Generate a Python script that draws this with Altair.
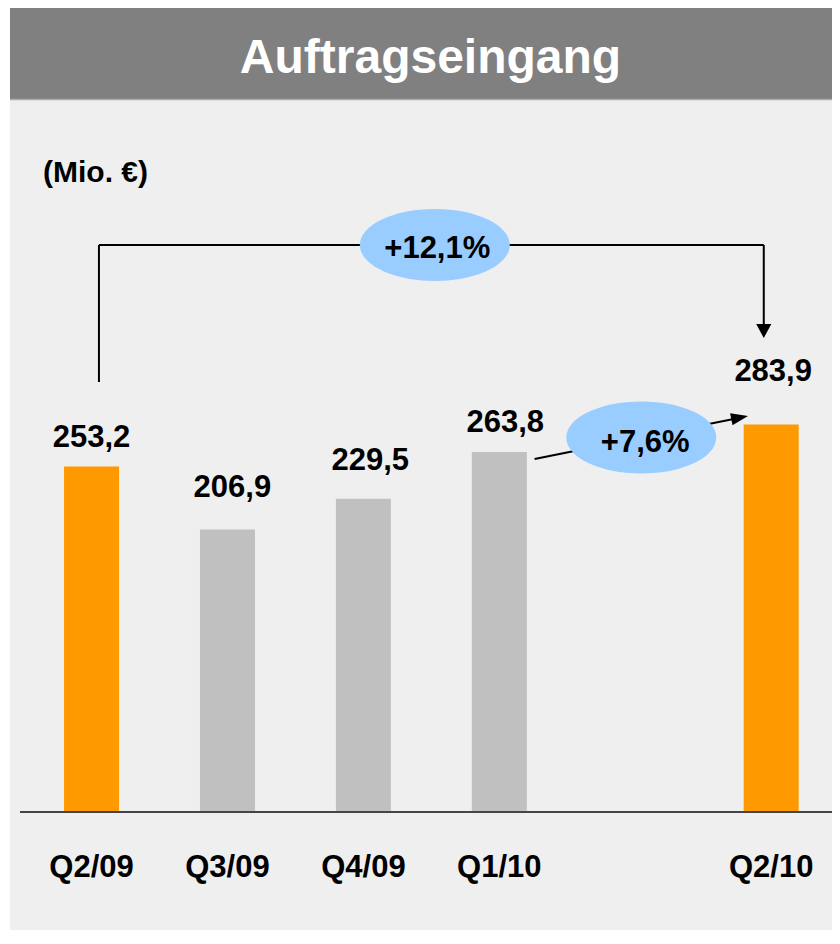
import altair as alt
import pandas as pd

# ---------------- data ----------------
quarters = ["Q2/09", "Q3/09", "Q4/09", "Q1/10", "Q2/10"]
values = [253.2, 206.9, 229.5, 263.8, 283.9]
highlight = [True, False, False, False, True]
slot_order = ["Q2/09", "Q3/09", "Q4/09", "Q1/10", "", "Q2/10"]  # empty slot before Q2/10
changes = ["+12,1%", "+7,6%"]
title_text = "Auftragseingang"
unit_text = "(Mio. €)"

# ---------------- layout ----------------
W, H = 824, 922
PX_PER_UNIT = 1.361
BASE_Y = 803.0          # chart px of value 0
SLOT_PX = 137.6
FIRST_X = 79.5
label_gap_px = [19, 32, 29, 20, 44]
label_dx_px = [0, 5, 7, 6, 2]
FONT = "Liberation Sans"

ORANGE = "#ff9900"
GREY_BAR = "#c0c0c0"
BG = "#efefef"
BANNER = "#808080"
BUBBLE = "#99ccff"


def sx(px):
    return (px - FIRST_X) / SLOT_PX


def vy(py):
    return (BASE_Y - py) / PX_PER_UNIT


xs = alt.Scale(domain=[sx(0), sx(W)], range=[0, W], nice=False, zero=False)
ys = alt.Scale(domain=[0, vy(0)], range=[BASE_Y, 0], nice=False)

slots = [slot_order.index(q) for q in quarters]
bars_df = pd.DataFrame({
    "quarter": quarters,
    "value": values,
    "slot": slots,
    "kind": ["hl" if h else "base" for h in highlight],
    "label": [f"{v:.1f}".replace(".", ",") for v in values],
    "label_v": [v + g / PX_PER_UNIT for v, g in zip(values, label_gap_px)],
    "label_slot": [s + d / SLOT_PX for s, d in zip(slots, label_dx_px)],
})

one = pd.DataFrame({"a": [0]})

bg = alt.Chart(one).mark_rect(color=BG).encode(
    x=alt.value(2), x2=alt.value(W), y=alt.value(0), y2=alt.value(H))
banner = alt.Chart(one).mark_rect(color=BANNER).encode(
    x=alt.value(2), x2=alt.value(W), y=alt.value(0), y2=alt.value(91))
banner_edge = alt.Chart(one).mark_rule(color="#ababab", strokeWidth=1.5).encode(
    x=alt.value(2), x2=alt.value(W), y=alt.value(91.5))
title = alt.Chart(one).mark_text(
    text=title_text, font=FONT, fontWeight="bold", fontSize=48, color="white",
    align="center", baseline="alphabetic").encode(x=alt.value(422.5), y=alt.value(65))
unit = alt.Chart(one).mark_text(
    text=unit_text, font=FONT, fontWeight="bold", fontSize=30, color="black",
    align="left", baseline="alphabetic").encode(x=alt.value(35), y=alt.value(174))

bars = alt.Chart(bars_df).mark_bar(size=55).encode(
    x=alt.X("slot:Q", scale=xs, axis=None),
    y=alt.Y("value:Q", scale=ys, axis=None),
    color=alt.Color("kind:N", scale=alt.Scale(domain=["hl", "base"], range=[ORANGE, GREY_BAR]), legend=None),
)

baseline = alt.Chart(one).mark_rule(color="#454545", strokeWidth=2).encode(
    x=alt.value(12), x2=alt.value(W), y=alt.value(BASE_Y + 1))

bar_labels = alt.Chart(bars_df).mark_text(
    font=FONT, fontWeight="bold", fontSize=31, color="black",
    align="center", baseline="alphabetic").encode(
    x=alt.X("label_slot:Q", scale=xs, axis=None),
    y=alt.Y("label_v:Q", scale=ys, axis=None),
    text="label:N")

cat_labels = alt.Chart(bars_df).mark_text(
    font=FONT, fontWeight="bold", fontSize=31, color="black",
    align="center", baseline="alphabetic").encode(
    x=alt.X("slot:Q", scale=xs, axis=None),
    y=alt.value(869),
    text="quarter:N")

# ---- annotations (geometry in chart px, converted to data units) ----
bx0 = slots[0] + 7.5 / SLOT_PX
bx1 = slots[-1] - 7.5 / SLOT_PX
top_y = 237
segs = pd.DataFrame({
    "x": [bx0, bx0, bx1, sx(528)],
    "x2": [bx0, bx1, bx1, sx(737)],
    "y": [vy(374), vy(top_y), vy(top_y), vy(451)],
    "y2": [vy(top_y), vy(top_y), vy(324), vy(409.5)],
})
rules = alt.Chart(segs).mark_rule(color="black", strokeWidth=2).encode(
    x=alt.X("x:Q", scale=xs, axis=None), x2="x2:Q",
    y=alt.Y("y:Q", scale=ys, axis=None), y2="y2:Q")

head1 = alt.Chart(pd.DataFrame({"x": [bx1], "y": [vy(330)]})).mark_point(
    shape="M0,0L-0.54,-1L0.54,-1Z", size=784, filled=True, color="black", opacity=1, strokeWidth=0).encode(
    x=alt.X("x:Q", scale=xs, axis=None), y=alt.Y("y:Q", scale=ys, axis=None))
head2 = alt.Chart(pd.DataFrame({"x": [sx(744)], "y": [vy(408)]})).mark_point(
    shape="M0,0L-1,-0.36L-1,0.36Z", size=1156, angle=348.7, filled=True, color="black", opacity=1, strokeWidth=0).encode(
    x=alt.X("x:Q", scale=xs, axis=None), y=alt.Y("y:Q", scale=ys, axis=None))

bubbles_df = pd.DataFrame({
    "x": [sx(427), sx(636)],
    "y": [vy(237), vy(429.5)],
    "tx": [sx(429.5), sx(640)],
    "ty": [vy(250), vy(444)],
    "text": changes,
})
bubbles = alt.Chart(bubbles_df).mark_point(
    shape="M-1,0A1,0.48,0,1,1,1,0A1,0.48,0,1,1,-1,0Z", size=22500, filled=True,
    color=BUBBLE, opacity=1, strokeWidth=0).encode(
    x=alt.X("x:Q", scale=xs, axis=None), y=alt.Y("y:Q", scale=ys, axis=None))
bubble_text = alt.Chart(bubbles_df).mark_text(
    font=FONT, fontWeight="bold", fontSize=31, color="black",
    align="center", baseline="alphabetic").encode(
    x=alt.X("tx:Q", scale=xs, axis=None), y=alt.Y("ty:Q", scale=ys, axis=None), text="text:N")

chart = alt.layer(
    bg, banner, banner_edge, title, unit, bars, baseline, bar_labels, cat_labels,
    rules, head1, head2, bubbles, bubble_text
).properties(
    width=W, height=H, padding=0, autosize=alt.AutoSizeParams(type="none"),
    background="white"
).configure_view(strokeWidth=0)

chart.save("out.html", embed_options={"renderer": "svg", "actions": False})
